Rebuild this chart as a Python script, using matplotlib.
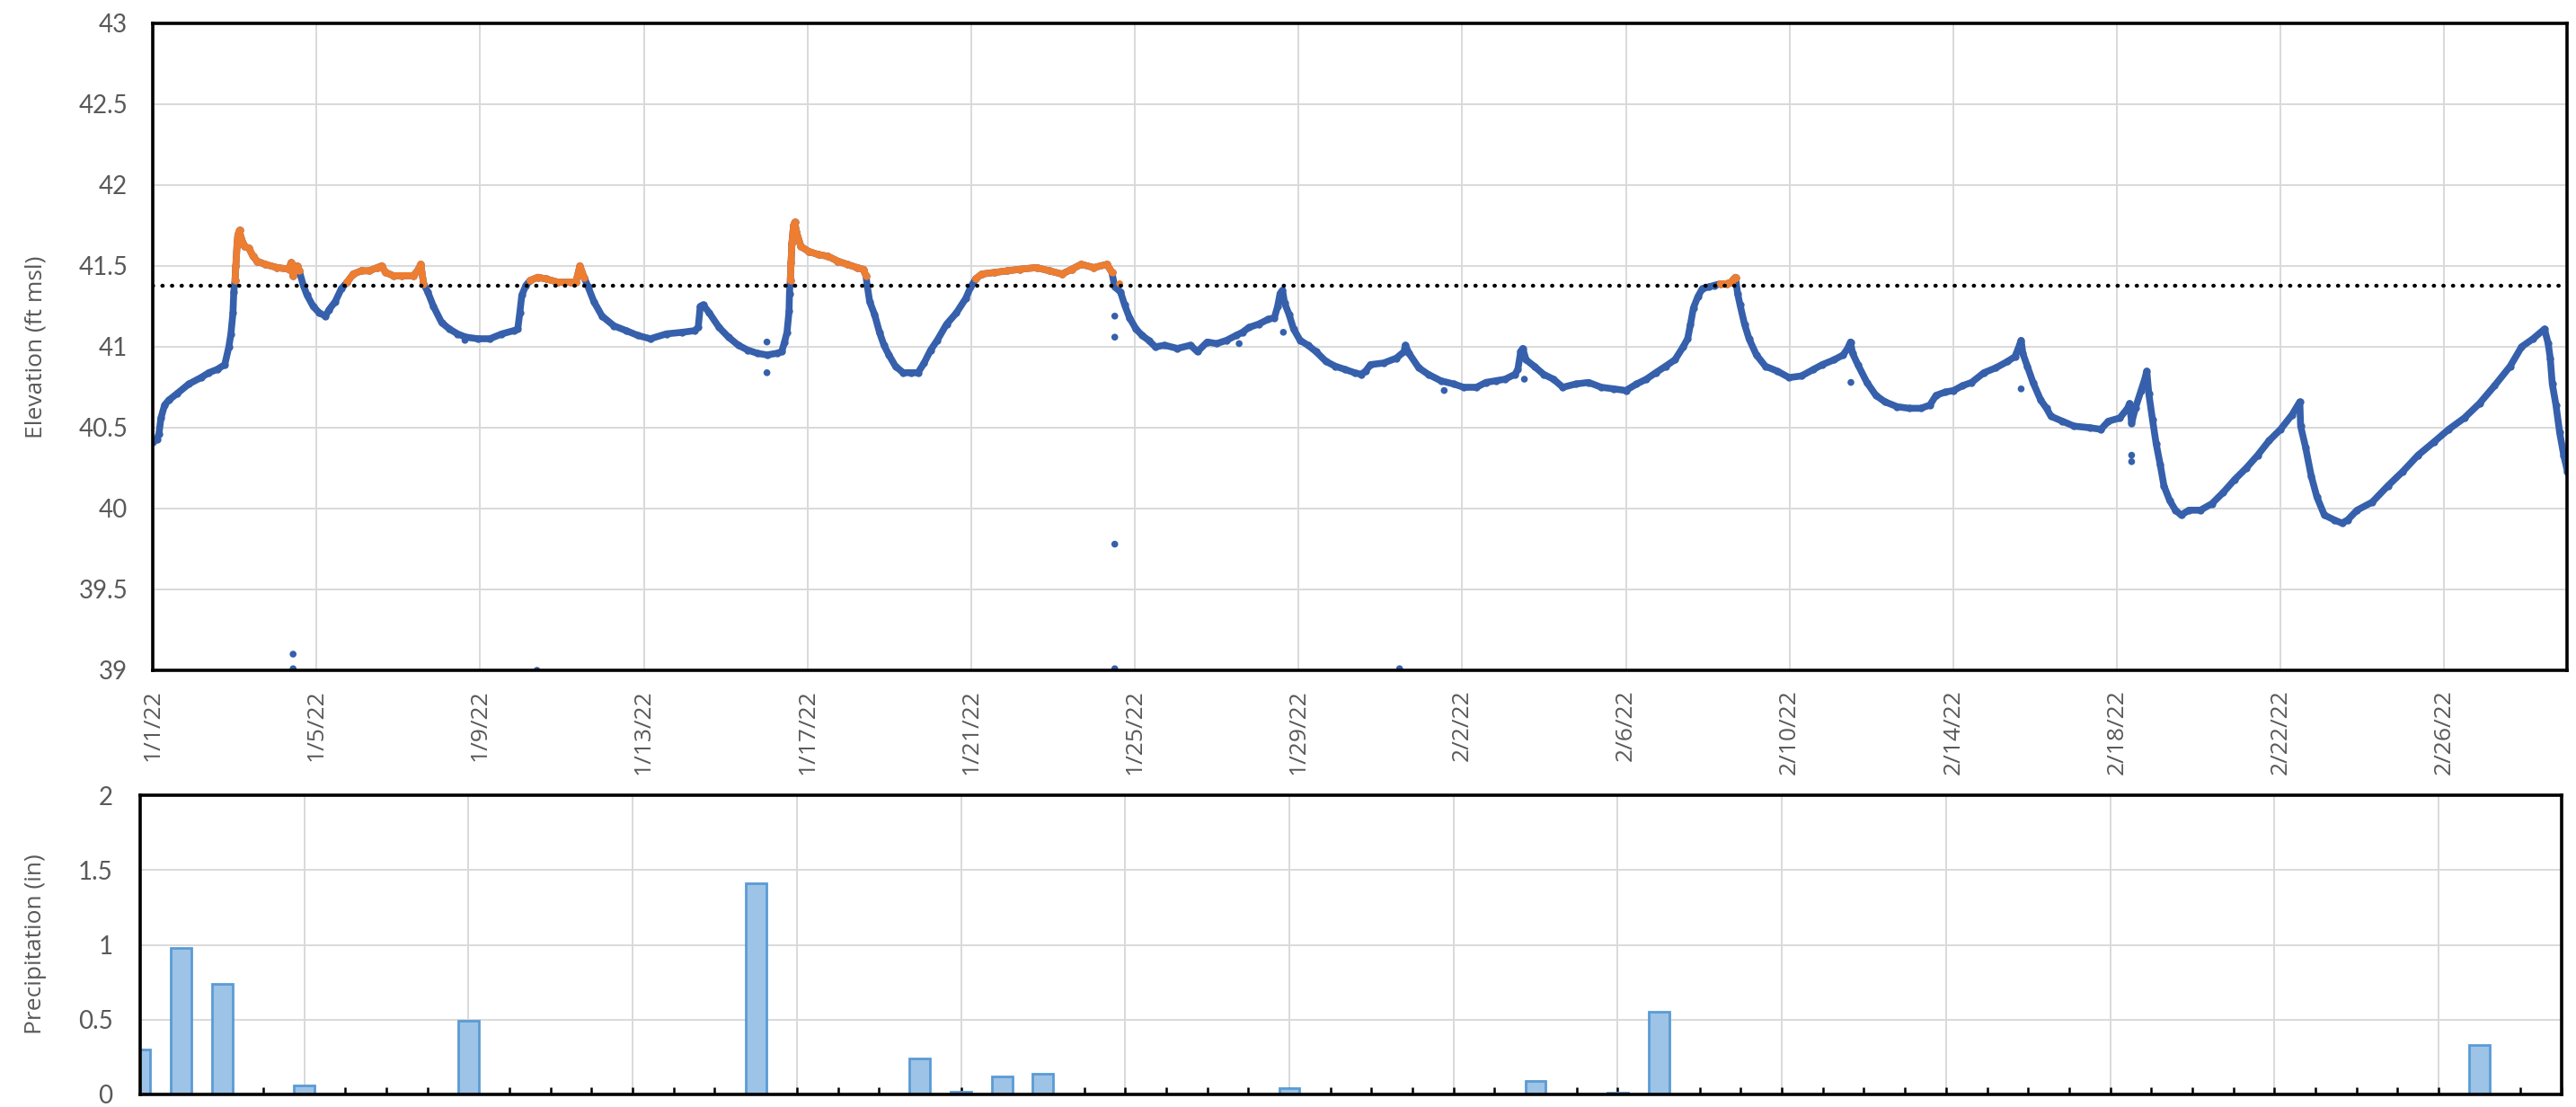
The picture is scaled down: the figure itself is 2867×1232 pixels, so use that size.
import numpy as np
import matplotlib
matplotlib.use("Agg")
import matplotlib.pyplot as plt
import matplotlib.dates as mdates
from matplotlib.ticker import MultipleLocator, FuncFormatter
from datetime import datetime

start = datetime(2022, 1, 1)

# lake elevation record: days after 1/1/22 00:00 and stage in ft msl
elev_days = [
    0.00, 0.10, 0.15, 0.20, 0.29, 0.39, 0.59, 0.88, 1.18, 1.37, 1.57, 1.76, 1.86, 1.91, 1.96, 1.98,
    2.01, 2.03, 2.06, 2.08, 2.12, 2.16, 2.25, 2.35, 2.45, 2.55, 2.75, 3.04, 3.33, 3.38, 3.43, 3.53,
    3.58, 3.68, 3.77, 3.92, 4.07, 4.22, 4.31, 4.46, 4.61, 4.75, 4.90, 5.10, 5.29, 5.49, 5.59, 5.69,
    5.88, 6.08, 6.37, 6.47, 6.55, 6.62, 6.72, 6.86, 7.06, 7.25, 7.45, 7.65, 7.94, 8.24, 8.53, 8.82,
    8.92, 8.97, 9.02, 9.12, 9.22, 9.41, 9.61, 9.90, 10.20, 10.34, 10.44, 10.54, 10.64, 10.78, 10.98, 11.27,
    11.57, 11.86, 12.16, 12.55, 12.94, 13.24, 13.33, 13.38, 13.45, 13.60, 13.84, 14.07, 14.31, 14.54, 14.78, 15.01,
    15.25, 15.37, 15.44, 15.50, 15.55, 15.56, 15.58, 15.60, 15.62, 15.66, 15.69, 15.73, 15.84, 16.03, 16.27, 16.50,
    16.74, 16.97, 17.21, 17.36, 17.43, 17.46, 17.52, 17.64, 17.76, 17.87, 17.99, 18.15, 18.34, 18.54, 18.70, 18.85,
    19.01, 19.17, 19.40, 19.64, 19.87, 19.99, 20.11, 20.26, 20.58, 20.89, 21.20, 21.60, 21.91, 22.22, 22.46, 22.69,
    23.00, 23.32, 23.44, 23.51, 23.65, 23.75, 23.87, 24.03, 24.18, 24.34, 24.50, 24.73, 25.04, 25.36, 25.53, 25.77,
    26.00, 26.24, 26.47, 26.63, 26.79, 27.02, 27.26, 27.41, 27.49, 27.55, 27.61, 27.66, 27.77, 27.88, 28.04, 28.23,
    28.43, 28.67, 28.90, 29.14, 29.37, 29.53, 29.64, 29.76, 30.08, 30.39, 30.58, 30.61, 30.70, 30.94, 31.17, 31.48,
    31.80, 32.03, 32.35, 32.58, 32.82, 33.05, 33.29, 33.36, 33.43, 33.48, 33.56, 33.76, 33.99, 34.23, 34.46, 34.77,
    35.09, 35.40, 35.71, 36.00, 36.26, 36.50, 36.73, 36.97, 37.20, 37.40, 37.51, 37.58, 37.65, 37.76, 37.87, 38.02,
    38.16, 38.31, 38.46, 38.57, 38.64, 38.68, 38.73, 38.79, 38.90, 39.01, 39.19, 39.41, 39.70, 39.99, 40.29, 40.58,
    40.80, 41.09, 41.31, 41.42, 41.49, 41.54, 41.67, 41.89, 42.11, 42.33, 42.63, 42.92, 43.21, 43.43, 43.58, 43.80,
    44.01, 44.23, 44.45, 44.75, 45.04, 45.33, 45.51, 45.59, 45.66, 45.70, 45.81, 45.95, 46.14, 46.28, 46.39, 46.67,
    46.95, 47.33, 47.61, 47.79, 48.07, 48.26, 48.31, 48.36, 48.45, 48.59, 48.68, 48.73, 48.78, 48.87, 48.96, 49.06,
    49.15, 49.29, 49.43, 49.57, 49.76, 50.04, 50.32, 50.60, 50.88, 51.16, 51.44, 51.72, 52.00, 52.28, 52.47, 52.49,
    52.61, 52.75, 52.89, 53.07, 53.31, 53.50, 53.64, 53.87, 54.24, 54.62, 54.99, 55.36, 55.74, 56.11, 56.49, 56.86,
    57.23, 57.61, 57.89, 58.17, 58.45, 58.54, 58.59, 58.64, 58.73, 58.82, 58.92, 59.01,
]
elev_ft = [
    40.41, 40.43, 40.46, 40.56, 40.64, 40.67, 40.71, 40.77, 40.81, 40.84, 40.86, 40.89, 41.00, 41.08, 41.21, 41.34,
    41.41, 41.50, 41.63, 41.69, 41.72, 41.67, 41.62, 41.61, 41.56, 41.53, 41.51, 41.49, 41.48, 41.52, 41.44, 41.50,
    41.47, 41.38, 41.32, 41.25, 41.21, 41.19, 41.23, 41.28, 41.36, 41.40, 41.45, 41.47, 41.47, 41.49, 41.50, 41.46,
    41.44, 41.44, 41.44, 41.47, 41.51, 41.39, 41.34, 41.25, 41.15, 41.11, 41.08, 41.06, 41.05, 41.05, 41.08, 41.10,
    41.11, 41.21, 41.32, 41.38, 41.41, 41.43, 41.42, 41.40, 41.40, 41.40, 41.50, 41.43, 41.37, 41.28, 41.19, 41.13,
    41.10, 41.07, 41.05, 41.08, 41.09, 41.10, 41.12, 41.25, 41.26, 41.21, 41.12, 41.06, 41.01, 40.98, 40.96, 40.95,
    40.96, 40.97, 41.03, 41.09, 41.22, 41.33, 41.41, 41.52, 41.64, 41.75, 41.77, 41.71, 41.62, 41.59, 41.57, 41.56,
    41.53, 41.51, 41.49, 41.48, 41.44, 41.38, 41.28, 41.20, 41.09, 41.01, 40.95, 40.88, 40.84, 40.84, 40.84, 40.90,
    40.98, 41.04, 41.14, 41.21, 41.30, 41.37, 41.42, 41.45, 41.46, 41.47, 41.48, 41.49, 41.47, 41.45, 41.48, 41.51,
    41.49, 41.51, 41.46, 41.37, 41.34, 41.26, 41.18, 41.11, 41.07, 41.04, 41.00, 41.01, 40.99, 41.01, 40.97, 41.03,
    41.02, 41.04, 41.07, 41.09, 41.12, 41.14, 41.17, 41.18, 41.25, 41.33, 41.35, 41.27, 41.20, 41.11, 41.04, 41.01,
    40.97, 40.91, 40.88, 40.86, 40.84, 40.83, 40.85, 40.89, 40.90, 40.93, 40.97, 41.01, 40.96, 40.87, 40.83, 40.79,
    40.77, 40.75, 40.75, 40.78, 40.79, 40.80, 40.83, 40.86, 40.97, 40.99, 40.92, 40.88, 40.83, 40.80, 40.75, 40.77,
    40.78, 40.75, 40.74, 40.73, 40.77, 40.80, 40.84, 40.88, 40.92, 41.00, 41.05, 41.14, 41.24, 41.31, 41.36, 41.37,
    41.38, 41.39, 41.39, 41.40, 41.42, 41.43, 41.33, 41.26, 41.14, 41.05, 40.95, 40.88, 40.85, 40.81, 40.82, 40.86,
    40.89, 40.92, 40.95, 40.99, 41.03, 40.96, 40.89, 40.78, 40.70, 40.66, 40.63, 40.62, 40.62, 40.64, 40.70, 40.72,
    40.73, 40.76, 40.78, 40.84, 40.87, 40.91, 40.94, 40.99, 41.04, 40.96, 40.88, 40.78, 40.67, 40.62, 40.57, 40.54,
    40.51, 40.50, 40.49, 40.54, 40.56, 40.62, 40.65, 40.53, 40.62, 40.73, 40.80, 40.85, 40.71, 40.55, 40.40, 40.27,
    40.14, 40.05, 39.99, 39.96, 39.99, 39.99, 40.03, 40.10, 40.18, 40.25, 40.33, 40.42, 40.49, 40.58, 40.66, 40.51,
    40.38, 40.20, 40.07, 39.96, 39.93, 39.91, 39.93, 39.99, 40.04, 40.14, 40.23, 40.33, 40.41, 40.49, 40.56, 40.65,
    40.76, 40.88, 41.00, 41.05, 41.11, 41.02, 40.93, 40.77, 40.64, 40.47, 40.33, 40.23,
]

# stray readings
stray_days = [3.43, 3.43, 7.63, 9.39, 15.01, 15.01, 23.51, 23.51, 23.51, 23.51, 23.63,
              26.55, 27.63, 30.47, 31.56, 33.52, 41.50, 45.66, 48.36, 48.36]
stray_ft = [39.10, 39.01, 41.04, 39.00, 41.03, 40.84, 41.19, 41.06, 39.78, 39.01, 41.39,
            41.02, 41.09, 39.01, 40.73, 40.80, 40.78, 40.74, 40.33, 40.29]

full_pool = 41.38

# daily rainfall
precip_dates = ["2022-01-01", "2022-01-02", "2022-01-03", "2022-01-05", "2022-01-09",
                "2022-01-16", "2022-01-20", "2022-01-21", "2022-01-22", "2022-01-23",
                "2022-01-29", "2022-02-04", "2022-02-06", "2022-02-07", "2022-02-27"]
precip_in = [0.30, 0.98, 0.74, 0.06, 0.49, 1.41, 0.24, 0.02, 0.12, 0.14,
             0.04, 0.09, 0.01, 0.55, 0.33]

BLUE = "#3660AB"
ORANGE = "#ED7D31"
GRID = "#D9D9D9"
TXT = "#595959"

W, H = 2867, 1232
fig = plt.figure(figsize=(W / 100, H / 100), dpi=100)
ax1 = fig.add_axes([170 / W, 1 - 746 / H, (2857 - 170) / W, (746 - 26) / H])
ax2 = fig.add_axes([156 / W, 1 - 1218 / H, (2851 - 156) / W, (1218 - 885) / H])

t0 = mdates.date2num(start)
x = t0 + np.array(elev_days)
y = np.array(elev_ft)

# blue trace, then the part above full pool in orange
ax1.plot(x, y, color=BLUE, lw=5.5, marker="o", ms=6, mec="none",
         solid_capstyle="round", solid_joinstyle="round", zorder=3)
y_hi = np.ma.masked_where(y <= full_pool, y)
ax1.plot(x, y_hi, color=ORANGE, lw=5.5, marker="o", ms=6, mec="none",
         solid_capstyle="round", solid_joinstyle="round", zorder=4)

xs = t0 + np.array(stray_days)
ys = np.array(stray_ft)
ax1.scatter(xs, ys, s=30, c=np.where(ys > full_pool, ORANGE, BLUE),
            edgecolors="none", zorder=4)

ax1.axhline(full_pool, color="black", lw=3.2, linestyle=(0, (0.1, 2.3)),
            dash_capstyle="round", zorder=5)

ax1.set_xlim(t0, t0 + 59)
ax1.set_ylim(39, 43)

major = t0 + np.arange(0, 59, 4)


def date_label(v, pos=None):
    d = mdates.num2date(v)
    return f"{d.month}/{d.day}/{d.year % 100}"


ax1.set_xticks(major)
ax1.xaxis.set_major_formatter(FuncFormatter(date_label))
ax1.yaxis.set_major_locator(MultipleLocator(0.5))
ax1.yaxis.set_major_formatter(FuncFormatter(lambda v, p: f"{v:g}"))
ax1.tick_params(axis="x", length=0, pad=15, labelsize=19, labelcolor=TXT,
                labelrotation=90)
ax1.tick_params(axis="y", length=0, pad=20, labelsize=20, labelcolor=TXT)
for lab in ax1.get_xticklabels():
    lab.set_fontfamily("Open Sans")
for lab in ax1.get_yticklabels():
    lab.set_fontfamily("Lato")

# precipitation bars
px = t0 + np.array([(np.datetime64(d) - np.datetime64("2022-01-01")).astype(int)
                    for d in precip_dates])
ax2.bar(px, precip_in, width=0.5, color="#9DC3E6", edgecolor="#5B9BD5",
        lw=2, zorder=3)
ax2.set_xlim(t0, t0 + 59)
ax2.set_ylim(0, 2)
ax2.set_xticks(major)
ax2.set_xticks(t0 + np.arange(0, 60), minor=True)
ax2.yaxis.set_major_locator(MultipleLocator(0.5))
ax2.yaxis.set_major_formatter(FuncFormatter(lambda v, p: f"{v:g}"))
ax2.tick_params(axis="x", which="both", direction="in", length=6, width=1.8,
                color="black", labelbottom=False)
ax2.tick_params(axis="y", length=0, pad=22, labelsize=20, labelcolor=TXT)
for lab in ax2.get_yticklabels():
    lab.set_fontfamily("Lato")

for ax in (ax1, ax2):
    ax.grid(True, which="major", color=GRID, lw=1.4)
    ax.set_axisbelow(True)
    for s in ax.spines.values():
        s.set_color("black")
        s.set_linewidth(2.6)
        s.set_zorder(6)

fig.text(40 / W, 1 - 386 / H, "Elevation (ft msl)", rotation=90, ha="center",
         va="center", fontsize=19, color=TXT, family="Open Sans")
fig.text(40 / W, 1 - 1051 / H, "Precipitation (in)", rotation=90, ha="center",
         va="center", fontsize=19, color=TXT, family="Open Sans")

fig.savefig("out.png", dpi=100, facecolor="white")
